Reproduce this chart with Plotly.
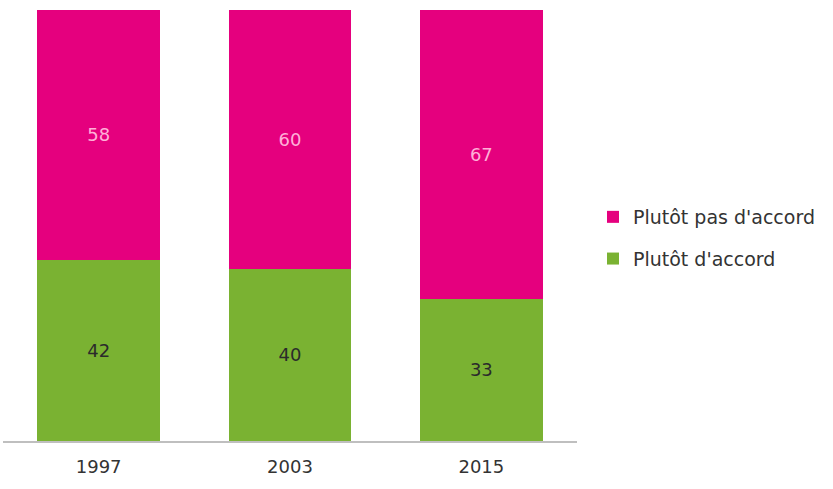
import plotly.graph_objects as go

years = ["1997", "2003", "2015"]
agree = [42, 40, 33]
disagree = [58, 60, 67]

fig = go.Figure()
fig.add_trace(go.Bar(
    x=years, y=agree, name="Plutôt d'accord",
    marker=dict(color="#7AB232", line=dict(width=0)),
    text=[str(v) for v in agree], textposition="inside", insidetextanchor="middle",
    textfont=dict(color="#2B2B2B", size=18, family="DejaVu Sans"),
    width=0.64, legendgroup="a", legendrank=2, hoverinfo="skip",
))
fig.add_trace(go.Bar(
    x=years, y=disagree, name="Plutôt pas d'accord",
    marker=dict(color="#E5007E", line=dict(width=0)),
    text=[str(v) for v in disagree], textposition="inside", insidetextanchor="middle",
    textfont=dict(color="#FFB0D8", size=18, family="DejaVu Sans"),
    width=0.64, legendgroup="b", legendrank=1, hoverinfo="skip",
))

fig.update_layout(
    width=833, height=489,
    barmode="stack",
    margin=dict(l=3, r=256, t=10, b=48),
    plot_bgcolor="white", paper_bgcolor="white",
    font=dict(family="DejaVu Sans", size=18, color="#333333"),
    xaxis=dict(
        showline=True, linecolor="#BFBFBF", linewidth=2,
        showgrid=False, ticks="", tickfont=dict(size=18, color="#333333"),
        ticklabelstandoff=8,
        range=[-0.5, 2.5], fixedrange=True,
    ),
    yaxis=dict(range=[0, 100], visible=False, fixedrange=True),
    legend=dict(
        traceorder="grouped", xref="container", yref="container",
        x=593 / 833, y=1 - 238 / 489, xanchor="left", yanchor="middle",
        font=dict(size=19, color="#333333"), tracegroupgap=14,
        itemwidth=30,
    ),
    showlegend=True,
    uniformtext=dict(mode="show", minsize=10),
)

fig.write_html("out.html")
